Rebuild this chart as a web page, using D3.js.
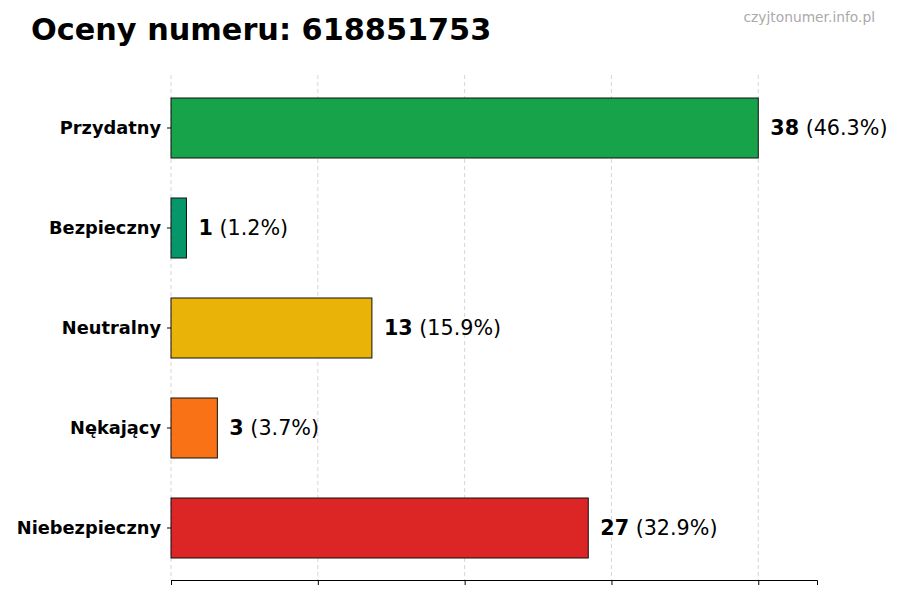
<!DOCTYPE html><html><head><meta charset="utf-8"><script src="https://cdn.jsdelivr.net/npm/d3@7"></script>
<style>body{margin:0;background:#fff}</style></head><body><svg id="c" width="900" height="600"></svg>
<script>
const categories=["Przydatny","Bezpieczny","Neutralny","Nękający","Niebezpieczny"];
const values=[38,1,13,3,27];
const percents=["46.3%","1.2%","15.9%","3.7%","32.9%"];
const colors=["#16a34a","#059669","#eab308","#f97316","#dc2626"];
const svg=d3.select("#c"),F="DejaVu Sans, sans-serif";
const max=d3.max(values);
const x=d3.scaleLinear().domain([0,max*1.1]).range([171,817]);
const y=d3.scaleBand().domain(categories).range([78,578]).paddingInner(0.4).paddingOuter(0.2);
const ticks=[0,1,2,3,4].map(i=>max*i/4);
svg.selectAll(".g").data(ticks).enter().append("line").attr("x1",d=>x(d)).attr("x2",d=>x(d)).attr("y1",75).attr("y2",580).attr("stroke","#ccc").attr("stroke-dasharray","4,3").attr("stroke-width",0.8);
svg.selectAll(".b").data(values).enter().append("rect").attr("x",x(0)).attr("y",(d,i)=>y(categories[i])).attr("width",d=>x(d)-x(0)).attr("height",y.bandwidth()).attr("fill",(d,i)=>colors[i]).attr("stroke","#111").attr("stroke-width",1);
const xa=svg.append("g").attr("transform","translate(0,580)").call(d3.axisBottom(x).tickValues(ticks).tickFormat("").tickSize(5));
xa.select(".domain").attr("stroke","#000");
const ya=svg.append("g").attr("transform","translate(171,0)").call(d3.axisLeft(y).tickSize(4).tickPadding(6));
ya.select(".domain").remove();
ya.selectAll("text").attr("font-family",F).attr("font-size",17.8).attr("font-weight","bold").attr("fill","#000");
const t=svg.selectAll(".l").data(values).enter().append("text").attr("x",d=>x(d)+12).attr("y",(d,i)=>y(categories[i])+y.bandwidth()/2).attr("dy","0.35em").attr("font-family",F).attr("font-size",20.7);
t.append("tspan").attr("font-weight","bold").text(d=>d);
t.append("tspan").text((d,i)=>" ("+percents[i]+")");
svg.append("text").attr("x",31).attr("y",40).attr("font-family",F).attr("font-size",30.3).attr("font-weight","bold").text("Oceny numeru: 618851753");
svg.append("text").attr("x",875).attr("y",22).attr("text-anchor","end").attr("font-family",F).attr("font-size",13.8).attr("fill","#aaa").text("czyjtonumer.info.pl");
</script></body></html>
